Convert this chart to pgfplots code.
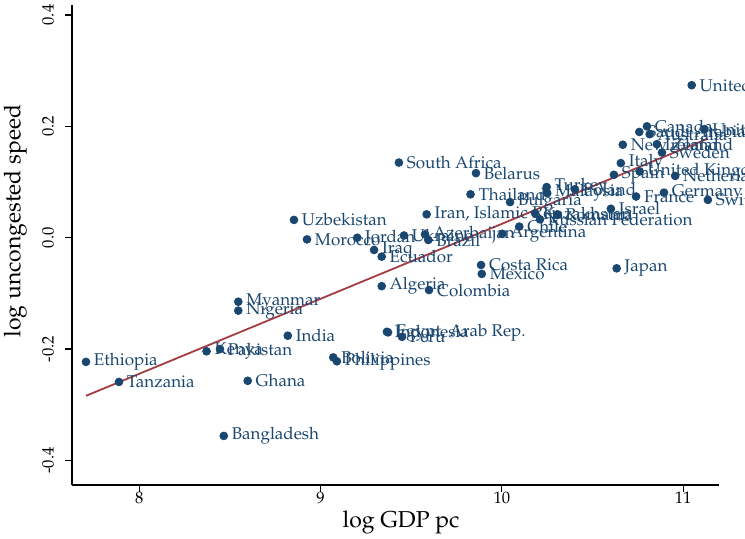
\documentclass[border=0pt]{standalone}
\usepackage[T1]{fontenc}
\usepackage{mathpazo}
\usepackage{pgfplots}
\pgfplotsset{compat=1.18}
\definecolor{stnavy}{RGB}{26,71,111}
\definecolor{stmaroon}{RGB}{165,60,65}
\begin{document}
\begin{tikzpicture}
\useasboundingbox (-36.15pt,-26.5pt) rectangle (336.35pt,242.5pt);
\clip (-36.15pt,-26.5pt) rectangle (336.35pt,242.5pt);
\begin{axis}[
  at={(0pt,0pt)}, anchor=south west,
  scale only axis, width=323.55pt, height=240pt,
  xmin=7.6305, xmax=11.1997, ymin=-0.4442, ymax=0.418,
  axis lines*=left,
  axis line style={line width=0.8pt, black},
  tick align=outside, major tick length=3.5pt,
  tick style={line width=0.6pt, black},
  xtick={8,9,10,11}, ytick={-0.4,-0.2,0,0.2,0.4},
  /pgf/number format/assume math mode=true,
  ticklabel style={font=\fontsize{8.3}{9}\selectfont},
  yticklabel style={rotate=90, anchor=south, inner sep=0pt,
     /pgf/number format/.cd, fixed, fixed zerofill, precision=1, assume math mode=true},
  yticklabel shift=5.5pt,
  xticklabel style={anchor=north, inner sep=0pt},
  xticklabel shift=0pt,
  xlabel={log GDP pc}, ylabel={log uncongested speed},
  label style={font=\fontsize{11.5}{13}\selectfont},
  xlabel style={at={(axis description cs:0.508,-0.0771)}, anchor=center},
  ylabel style={at={(axis description cs:-0.0881,0.55)}, anchor=center},
  clip=false,
]
\addplot[only marks, mark=*, mark size=1.95pt, color=stnavy,
  point meta=explicit symbolic,
  nodes near coords,
  every node near coord/.append style={anchor=west, inner sep=0pt, xshift=3.8pt,
     font=\fontsize{8.5}{9.5}\selectfont, text=stnavy},
] table[x=x, y=y, meta=label] {
x y label
11.047 0.274 {United Arab Emirates}
10.800 0.200 {Canada}
11.117 0.195 {United States}
10.758 0.190 {Saudi Arabia}
10.815 0.186 {Australia}
10.667 0.167 {New Zealand}
10.855 0.168 {Ireland}
10.883 0.153 {Sweden}
10.656 0.134 {Italy}
10.760 0.119 {United Kingdom}
10.618 0.113 {Spain}
10.956 0.111 {Netherlands}
10.740 0.074 {France}
10.894 0.081 {Germany}
11.136 0.068 {Switzerland}
10.601 0.052 {Israel}
10.633 -0.055 {Japan}
10.247 0.091 {Turkey}
10.250 0.080 {Malaysia}
10.403 0.087 {Poland}
10.045 0.064 {Bulgaria}
10.183 0.044 {Kazakhstan}
10.210 0.033 {Russian Federation}
10.306 0.041 {Romania}
10.096 0.020 {Chile}
10.002 0.007 {Argentina}
9.857 0.116 {Belarus}
9.827 0.078 {Thailand}
9.432 0.135 {South Africa}
9.585 0.042 {Iran, Islamic Rep.}
8.853 0.032 {Uzbekistan}
8.925 -0.003 {Morocco}
9.202 0.000 {Jordan}
9.295 -0.022 {Iraq}
9.337 -0.034 {Ecuador}
9.460 0.004 {Ukraine}
9.576 0.006 {Azerbaijan}
9.594 -0.004 {Brazil}
9.885 -0.049 {Costa Rica}
9.889 -0.065 {Mexico}
9.337 -0.087 {Algeria}
9.598 -0.094 {Colombia}
9.366 -0.169 {Indonesia}
9.372 -0.170 {Egypt, Arab Rep.}
9.449 -0.178 {Peru}
9.070 -0.215 {Bolivia}
9.090 -0.222 {Philippines}
8.546 -0.115 {Myanmar}
8.546 -0.131 {Nigeria}
8.819 -0.176 {India}
8.371 -0.204 {Kenya}
8.445 -0.200 {Pakistan}
7.706 -0.223 {Ethiopia}
7.888 -0.259 {Tanzania}
8.598 -0.257 {Ghana}
8.466 -0.356 {Bangladesh}
};
\addplot[no marks, color=stmaroon, line width=0.9pt] coordinates {(7.706,-0.284) (11.136,0.178)};
\end{axis}
\end{tikzpicture}
\end{document}
